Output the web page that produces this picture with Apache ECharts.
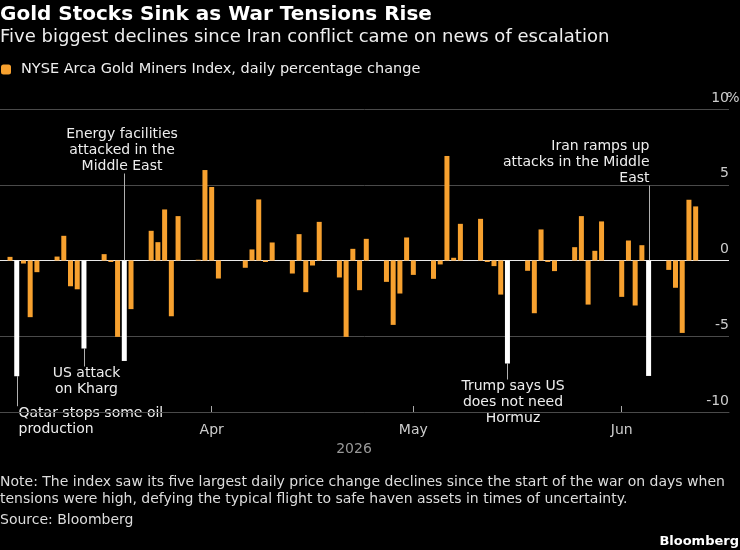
<!DOCTYPE html>
<html>
<head>
<meta charset="utf-8">
<script src="https://cdn.jsdelivr.net/npm/echarts@6/dist/echarts.min.js"></script>
<style>
html, body { margin: 0; padding: 0; background: #000; }
#main { width: 740px; height: 550px; }
</style>
</head>
<body>
<div id="main"></div>
<script>
// trading days and daily % change of the NYSE Arca Gold Miners Index
var dates = [
    '2026-03-02', '2026-03-03', '2026-03-04', '2026-03-05', '2026-03-06',
    '2026-03-09', '2026-03-10', '2026-03-11', '2026-03-12', '2026-03-13',
    '2026-03-16', '2026-03-17', '2026-03-18', '2026-03-19', '2026-03-20',
    '2026-03-23', '2026-03-24', '2026-03-25', '2026-03-26', '2026-03-27',
    '2026-03-30', '2026-03-31', '2026-04-01', '2026-04-02',
    '2026-04-06', '2026-04-07', '2026-04-08', '2026-04-09', '2026-04-10',
    '2026-04-13', '2026-04-14', '2026-04-15', '2026-04-16', '2026-04-17',
    '2026-04-20', '2026-04-21', '2026-04-22', '2026-04-23', '2026-04-24',
    '2026-04-27', '2026-04-28', '2026-04-29', '2026-04-30', '2026-05-01',
    '2026-05-04', '2026-05-05', '2026-05-06', '2026-05-07', '2026-05-08',
    '2026-05-11', '2026-05-12', '2026-05-13', '2026-05-14', '2026-05-15',
    '2026-05-18', '2026-05-19', '2026-05-20', '2026-05-21', '2026-05-22',
    '2026-05-25', '2026-05-26', '2026-05-27', '2026-05-28', '2026-05-29',
    '2026-06-01', '2026-06-02', '2026-06-03', '2026-06-04', '2026-06-05',
    '2026-06-08', '2026-06-09', '2026-06-10', '2026-06-11', '2026-06-12'
];
var changes = [
    0.24, -7.64, -0.2, -3.74, -0.77,
    0.26, 1.63, -1.7, -1.9, -5.81,
    0.42, -0.1, -5.04, -6.63, -3.21,
    1.96, 1.21, 3.37, -3.68, 2.93,
    0.05, 5.97, 4.85, -1.19,
    -0.48, 0.73, 4.03, -0.1, 1.19,
    -0.86, 1.74, -2.09, -0.33, 2.55,
    -1.12, -5.04, 0.77, -1.96, 1.43,
    -1.41, -4.25, -2.18, 1.52, -0.95,
    -1.21, -0.26, 6.9, 0.18, 2.42,
    2.75, -0.1, -0.37, -2.25, -6.8,
    -0.68, -3.48, 2.05, -0.1, -0.7,
    0.88, 2.93, -2.91, 0.64, 2.58,
    -2.4, 1.32, -2.97, 1.01, -7.62,
    -0.62, -1.8, -4.78, 4.01, 3.57
];
// the five biggest declines (drawn in white) and their notes
var noteDates = ['2026-03-03', '2026-03-13', '2026-03-19', '2026-05-15', '2026-06-05'];
var noteTexts = [
    'Qatar stops some oil\nproduction',
    'US attack\non Kharg',
    'Energy facilities\nattacked in the\nMiddle East',
    'Trump says US\ndoes not need\nHormuz',
    'Iran ramps up\nattacks in the Middle\nEast'
];
var monthTicks = ['2026-04-01', '2026-05-01', '2026-06-01'];
var monthLabels = ['Apr', 'May', 'Jun'];
var yTicks = [-10, -5, 0, 5, 10];

// leader line length and text placement for each note
var noteLayout = [
    { side: 'below', len: 30, dx: 1, align: 'left' },
    { side: 'below', len: 18, dx: 2, align: 'center' },
    { side: 'above', len: 87, dx: -2.5, align: 'center' },
    { side: 'below', len: 16, dx: 5.5, align: 'center' },
    { side: 'above', len: 75, dx: 0, align: 'right' }
];

var FONT = 'DejaVu Sans';
var ORANGE = '#f7a12f';
var GRID = '#4a4a4a';
var DAY = 86400000;

function day(s) {
    return new Date(s + 'T00:00:00').getTime();
}

var tickTimes = monthTicks.map(day);
var barData = dates.map(function(d, i) {
    var item = { value: [day(d), changes[i]] };
    if (noteDates.indexOf(d) >= 0) item.itemStyle = { color: '#ffffff' };
    return item;
});

var dom = document.getElementById('main');
var myChart = echarts.init(dom, null, { renderer: 'canvas' });

var option = {
    backgroundColor: '#000',
    animation: false,
    textStyle: { fontFamily: FONT },
    title: [{
        text: 'Gold Stocks Sink as War Tensions Rise',
        left: 0, top: 4, padding: 0,
        textStyle: { color: '#fff', fontSize: 20, fontWeight: 'bold', lineHeight: 22, fontFamily: FONT }
    }, {
        text: 'Five biggest declines since Iran conflict came on news of escalation',
        left: 0, top: 26, padding: 0,
        textStyle: { color: '#eee', fontSize: 18, fontWeight: 'normal', lineHeight: 22, fontFamily: FONT }
    }, {
        text: 'Note: The index saw its five largest daily price change declines since the start of the war on days when\ntensions were high, defying the typical flight to safe haven assets in times of uncertainty.',
        left: 0, top: 474, padding: 0,
        textStyle: { color: '#ddd', fontSize: 14, fontWeight: 'normal', lineHeight: 17, fontFamily: FONT }
    }, {
        text: 'Source: Bloomberg',
        left: 0, top: 512, padding: 0,
        textStyle: { color: '#ddd', fontSize: 14, fontWeight: 'normal', lineHeight: 16, fontFamily: FONT }
    }, {
        text: 'Bloomberg',
        right: 1, top: 534, padding: 0,
        textStyle: { color: '#fff', fontSize: 13, fontWeight: 'bold', lineHeight: 15, fontFamily: FONT }
    }],
    legend: {
        left: 1, top: 62, padding: 0,
        icon: 'roundRect', itemWidth: 10, itemHeight: 10,
        textStyle: { color: '#eee', fontSize: 14.5, padding: [0, 0, 0, 5], fontFamily: FONT },
        data: ['NYSE Arca Gold Miners Index, daily percentage change']
    },
    grid: {
        left: 0, right: 11, top: 109, bottom: 138,
        outerBoundsMode: 'none'
    },
    xAxis: {
        type: 'value',
        min: day(dates[0]) - 1.49 * DAY,
        max: day(dates[0]) + 106.96 * DAY,
        axisLine: { show: true, onZero: false, lineStyle: { color: GRID } },
        splitLine: { show: false },
        axisTick: {
            show: true, inside: true, customValues: tickTimes, length: 6,
            lineStyle: { color: '#aaa' }
        },
        axisLabel: {
            customValues: tickTimes, margin: 11,
            color: '#ccc', fontSize: 14, fontFamily: FONT,
            formatter: function(v) {
                var best = 0;
                tickTimes.forEach(function(t, i) {
                    if (Math.abs(t - v) < Math.abs(tickTimes[best] - v)) best = i;
                });
                return monthLabels[best];
            }
        },
        name: '2026', nameLocation: 'middle', nameGap: 27,
        nameTextStyle: { color: '#999', fontSize: 14, padding: [0, 21, 0, 0], fontFamily: FONT }
    },
    yAxis: {
        type: 'value', position: 'right',
        min: yTicks[0], max: yTicks[yTicks.length - 1], interval: 5,
        axisLine: { show: false },
        axisTick: { show: false },
        splitLine: {
            lineStyle: {
                width: 1,
                color: yTicks.map(function(t) { return t === 0 ? '#e8e8e8' : GRID; })
            }
        },
        axisLabel: {
            inside: true, margin: -8,
            verticalAlign: 'bottom', padding: [0, 0, 4, 0],
            color: '#ccc', fontSize: 14, fontFamily: FONT,
            formatter: function(v) {
                return v + '{p|' + (v === yTicks[yTicks.length - 1] ? '%' : '') + '}';
            },
            rich: { p: { width: 8, align: 'left', color: '#ccc', fontSize: 14, fontFamily: FONT } }
        }
    },
    series: [{
        name: 'NYSE Arca Gold Miners Index, daily percentage change',
        type: 'bar',
        barWidth: 5,
        itemStyle: { color: ORANGE },
        data: barData
    }]
};
myChart.setOption(option, true);

// leader lines and note texts, placed through the chart's own scales
var graphics = [];
noteDates.forEach(function(d, i) {
    var lay = noteLayout[i];
    var v = changes[dates.indexOf(d)];
    var end = myChart.convertToPixel({ gridIndex: 0 }, [day(d), lay.side === 'below' ? v : 0]);
    var x = Math.round(end[0]) + 0.5;
    var y1 = end[1];
    var y2 = lay.side === 'below' ? y1 + lay.len : y1 - lay.len;
    graphics.push({
        type: 'line', silent: true,
        shape: { x1: x, y1: y1, x2: x, y2: y2 },
        style: { stroke: '#b0b0b0', lineWidth: 1 }
    });
    graphics.push({
        type: 'text', silent: true,
        x: x + lay.dx, y: lay.side === 'below' ? y2 - 1 : y2 + 1,
        style: {
            text: noteTexts[i], fill: '#eee',
            fontSize: 14, fontFamily: FONT, lineHeight: 16,
            align: lay.align,
            verticalAlign: lay.side === 'below' ? 'top' : 'bottom'
        }
    });
});
myChart.setOption({ graphic: graphics });
</script>
</body>
</html>
